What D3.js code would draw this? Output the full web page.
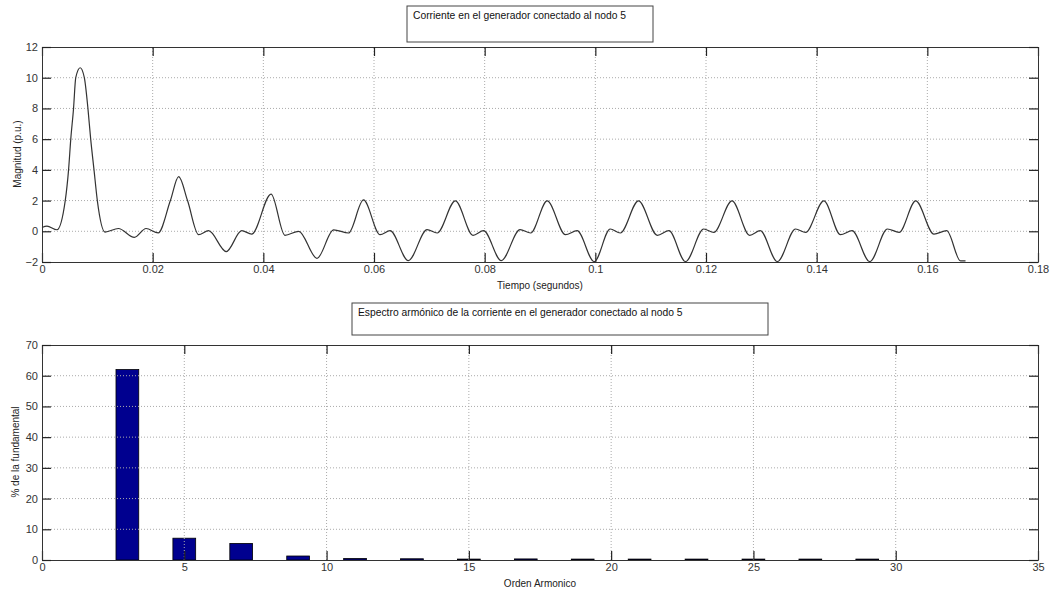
<!DOCTYPE html>
<html>
<head>
<meta charset="utf-8">
<script src="https://d3js.org/d3.v7.min.js"></script>
<style>
  body { margin: 0; background: #fff; }
  svg { display: block; font-family: "Liberation Sans", Arial, sans-serif; }
  .tick-label { font-size: 11px; fill: #333; }
  .axis-label { font-size: 10px; fill: #222; }
  .title-text { font-size: 10.3px; fill: #111; }
</style>
</head>
<body>
<svg id="chart" width="1052" height="592"></svg>
<script>
// Current in the generator (time in s, magnitude in p.u.)
var tiempo = [0.0000, 0.0009, 0.0027, 0.0042, 0.0048, 0.0052, 0.0057, 0.0061, 0.0069, 0.00765,
              0.0083, 0.0088, 0.0094, 0.0100, 0.0114, 0.0138, 0.0167, 0.0188, 0.0210, 0.0232,
              0.0247, 0.0263, 0.0283, 0.0301, 0.0333, 0.0361, 0.0379, 0.0414, 0.0439, 0.0464,
              0.0497, 0.0527, 0.0554, 0.0581, 0.0611, 0.0629, 0.0662, 0.0696, 0.0714, 0.0747,
              0.0779, 0.0798, 0.0830, 0.0864, 0.0883, 0.0913, 0.0946, 0.0967, 0.0998, 0.1027,
              0.1045, 0.1078, 0.1112, 0.1133, 0.1163, 0.1196, 0.1214, 0.1247, 0.1279, 0.1298,
              0.1329, 0.1362, 0.1380, 0.1413, 0.1443, 0.1464, 0.1496, 0.1528, 0.1549, 0.1579,
              0.1612, 0.1635, 0.1660, 0.1669];
var corriente = [0.25, 0.33, 0.10, 2.0, 4.0, 6.0, 8.0, 10.0, 10.65, 10.0,
                 8.0, 6.0, 4.0, 2.0, -0.05, 0.18, -0.40, 0.18, -0.10, 2.0,
                 3.56, 2.0, -0.22, 0.04, -1.32, 0.04, -0.18, 2.42, -0.26, 0.0,
                 -1.76, 0.09, -0.11, 2.04, -0.22, 0.04, -1.91, 0.11, -0.11, 1.98,
                 -0.26, 0.04, -1.91, 0.11, -0.11, 1.98, -0.22, 0.04, -1.98, 0.15,
                 -0.11, 1.98, -0.26, 0.04, -1.98, 0.15, -0.07, 1.98, -0.26, 0.04,
                 -1.98, 0.15, -0.07, 1.98, -0.22, 0.04, -1.98, 0.15, -0.07, 1.98,
                 -0.18, 0.04, -1.93, -1.93];

// Harmonic spectrum (% of the fundamental)
var ordenArmonico = [3, 5, 7, 9, 11, 13, 15, 17, 19, 21, 23, 25, 27, 29];
var porcentaje = [62, 7.1, 5.4, 1.3, 0.5, 0.4, 0.3, 0.35, 0.3, 0.3, 0.3, 0.3, 0.3, 0.3];

// Tick labels
var ticksTiempo = [0, 0.02, 0.04, 0.06, 0.08, 0.1, 0.12, 0.14, 0.16, 0.18];
var ticksMagnitud = [-2, 0, 2, 4, 6, 8, 10, 12];
var ticksOrden = [0, 5, 10, 15, 20, 25, 30, 35];
var ticksPorcentaje = [0, 10, 20, 30, 40, 50, 60, 70];

var svg = d3.select("#chart");

// Draws a matlab style box with inward ticks on all four sides and dotted grid
function drawAxes(g, x, y, xt, yt, fmtX) {
    var x0 = x.range()[0], x1 = x.range()[1];
    var y0 = y.range()[0], y1 = y.range()[1];
    var tl = 9;

    // grid
    g.selectAll(".vgrid").data(xt.slice(1, -1)).enter().append("line")
        .attr("x1", function(d) { return x(d); }).attr("x2", function(d) { return x(d); })
        .attr("y1", y0).attr("y2", y1)
        .attr("stroke", "#aaa").attr("stroke-dasharray", "1,2");
    g.selectAll(".hgrid").data(yt.slice(1, -1)).enter().append("line")
        .attr("y1", function(d) { return y(d); }).attr("y2", function(d) { return y(d); })
        .attr("x1", x0).attr("x2", x1)
        .attr("stroke", "#aaa").attr("stroke-dasharray", "1,2");

    // axes with inward ticks
    g.append("g").attr("transform", "translate(0," + y0 + ")")
        .call(d3.axisBottom(x).tickValues(xt).tickSizeInner(-tl).tickSizeOuter(0).tickPadding(3).tickFormat(fmtX))
        .call(styleAxis);
    g.append("g").attr("transform", "translate(0," + y1 + ")")
        .call(d3.axisTop(x).tickValues(xt).tickSizeInner(-tl).tickSizeOuter(0).tickFormat(""))
        .call(styleAxis);
    g.append("g").attr("transform", "translate(" + x0 + ",0)")
        .call(d3.axisLeft(y).tickValues(yt).tickSizeInner(-tl).tickSizeOuter(0).tickPadding(4).tickFormat(d3.format("d")))
        .call(styleAxis);
    g.append("g").attr("transform", "translate(" + x1 + ",0)")
        .call(d3.axisRight(y).tickValues(yt).tickSizeInner(-tl).tickSizeOuter(0).tickFormat(""))
        .call(styleAxis);
}

function styleAxis(a) {
    a.select(".domain").attr("stroke", "#333");
    a.selectAll(".tick line").attr("stroke", "#222").attr("stroke-width", 1.2);
    a.selectAll(".tick text").attr("class", "tick-label").attr("fill", null);
}

function titleBox(x, y, w, h, text) {
    svg.append("rect").attr("x", x).attr("y", y).attr("width", w).attr("height", h)
        .attr("fill", "#fff").attr("stroke", "#444");
    svg.append("text").attr("class", "title-text").attr("x", x + 6).attr("y", y + 13).text(text);
}

// ---- top plot: time signal ----
var xT = d3.scaleLinear().domain([0, 0.18]).range([42, 1038]);
var yT = d3.scaleLinear().domain([-2, 12]).range([262, 47]);
var gTop = svg.append("g");
drawAxes(gTop, xT, yT, ticksTiempo, ticksMagnitud, function(d) { return d === 0 ? "0" : d3.format("")(d); });

var puntos = tiempo.map(function(t, i) { return [t, corriente[i]]; });
gTop.append("path")
    .datum(puntos)
    .attr("fill", "none")
    .attr("stroke", "#333")
    .attr("stroke-width", 1.2)
    .attr("d", d3.line().x(function(d) { return xT(d[0]); }).y(function(d) { return yT(d[1]); }).curve(d3.curveMonotoneX));

svg.append("text").attr("class", "axis-label").attr("x", 540).attr("y", 289)
    .attr("text-anchor", "middle").text("Tiempo (segundos)");
svg.append("text").attr("class", "axis-label")
    .attr("transform", "translate(21,154) rotate(-90)")
    .attr("text-anchor", "middle").text("Magnitud (p.u.)");
titleBox(407, 6, 246, 36, "Corriente en el generador conectado al nodo 5");

// ---- bottom plot: harmonic spectrum ----
var xB = d3.scaleLinear().domain([0, 35]).range([42, 1038]);
var yB = d3.scaleLinear().domain([0, 70]).range([560, 345]);
var gBot = svg.append("g");

gBot.selectAll(".bar").data(ordenArmonico).enter().append("rect")
    .attr("x", function(d) { return xB(d - 0.4); })
    .attr("width", function(d) { return xB(d + 0.4) - xB(d - 0.4); })
    .attr("y", function(d, i) { return yB(porcentaje[i]); })
    .attr("height", function(d, i) { return yB(0) - yB(porcentaje[i]); })
    .attr("fill", "#00008f")
    .attr("stroke", "#000")
    .attr("stroke-width", 0.8);

drawAxes(gBot, xB, yB, ticksOrden, ticksPorcentaje, d3.format("d"));

svg.append("text").attr("class", "axis-label").attr("x", 540).attr("y", 587)
    .attr("text-anchor", "middle").text("Orden Armonico");
svg.append("text").attr("class", "axis-label")
    .attr("transform", "translate(19,452) rotate(-90)")
    .attr("text-anchor", "middle").text("% de la fundamental");
titleBox(352, 303, 416, 32, "Espectro armónico de la corriente en el generador conectado al nodo 5");
</script>
</body>
</html>
